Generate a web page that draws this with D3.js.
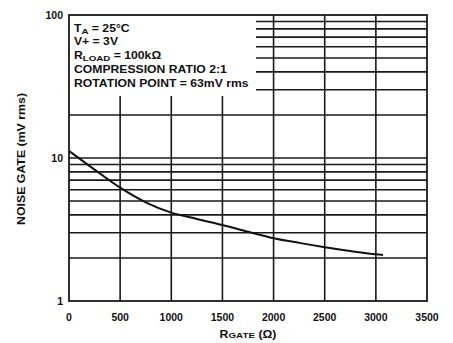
<!DOCTYPE html>
<html>
<head>
<meta charset="utf-8">
<script src="https://cdn.jsdelivr.net/npm/d3@7"></script>
<style>
  body { margin: 0; background: #fff; }
  text { font-family: "Liberation Sans", Arial, sans-serif; font-weight: bold; fill: #111; }
</style>
</head>
<body>
<div id="chart"></div>
<script>
// curve
var rgate = [0, 250, 500, 750, 1000, 1250, 1500, 1750, 2000, 2250, 2500, 2750, 3000, 3070];
var noise = [11.2, 8.3, 6.2, 4.9, 4.15, 3.75, 3.4, 3.05, 2.75, 2.55, 2.38, 2.24, 2.12, 2.1];

var xTicks = [0, 500, 1000, 1500, 2000, 2500, 3000, 3500];
var yTicks = [1, 10, 100];
var legendLines = [
  ["T", "A", " = 25°C"],
  ["V+ = 3V", "", ""],
  ["R", "LOAD", " = 100kΩ"],
  ["COMPRESSION RATIO 2:1", "", ""],
  ["ROTATION POINT = 63mV rms", "", ""]
];

var W = 453, H = 343;
var margin = {left: 69, right: 26, top: 15, bottom: 42};

var svg = d3.select("#chart").append("svg")
  .attr("width", W).attr("height", H);

var x = d3.scaleLinear().domain([0, 3500]).range([margin.left, W - margin.right]);
var y = d3.scaleLog().domain([1, 100]).range([H - margin.bottom, margin.top]);

// minor log values 2..9, 20..90
var minor = [];
[1, 10].forEach(function(d) {
  for (let k = 2; k <= 9; k++) minor.push(d * k);
});
minor.push(10);

// legend box area (gridlines don't go through it)
var boxX2 = 256, boxY2 = 96;

var grid = svg.append("g").attr("stroke", "#1a1a1a").attr("stroke-width", 1.6);

grid.selectAll("line.h").data(minor).enter().append("line")
  .attr("class", "h")
  .attr("x1", function(d) { return y(d) < boxY2 ? boxX2 : x(0); })
  .attr("x2", x(3500))
  .attr("y1", function(d) { return y(d); })
  .attr("y2", function(d) { return y(d); });

grid.selectAll("line.v").data(xTicks.slice(1, -1)).enter().append("line")
  .attr("class", "v")
  .attr("x1", function(d) { return x(d); })
  .attr("x2", function(d) { return x(d); })
  .attr("y1", function(d) { return x(d) < boxX2 ? boxY2 : y(100); })
  .attr("y2", y(1));

svg.append("rect")
  .attr("x", x(0)).attr("y", y(100))
  .attr("width", x(3500) - x(0)).attr("height", y(1) - y(100))
  .attr("fill", "none").attr("stroke", "#1a1a1a").attr("stroke-width", 1.8);

// curve
var line = d3.line()
  .x(function(d, i) { return x(rgate[i]); })
  .y(function(d) { return y(d); })
  .curve(d3.curveMonotoneX);

svg.append("path")
  .datum(noise)
  .attr("d", line)
  .attr("fill", "none")
  .attr("stroke", "#111")
  .attr("stroke-width", 2);

// axes labels
svg.selectAll("text.xt").data(xTicks).enter().append("text")
  .attr("class", "xt")
  .attr("x", function(d) { return x(d); })
  .attr("y", y(1) + 20)
  .attr("text-anchor", "middle")
  .style("font-size", "10.5px")
  .text(function(d) { return d; });

svg.selectAll("text.yt").data(yTicks).enter().append("text")
  .attr("class", "yt")
  .attr("x", x(0) - 6)
  .attr("y", function(d) { return y(d) + 4; })
  .attr("text-anchor", "end")
  .style("font-size", "10.5px")
  .text(function(d) { return d; });

var xt = svg.append("text")
  .attr("x", 248).attr("y", 338)
  .attr("text-anchor", "middle")
  .attr("textLength", 57)
  .attr("lengthAdjust", "spacingAndGlyphs")
  .style("font-size", "10px");
xt.append("tspan").text("R");
xt.append("tspan").style("font-size", "8px").text("GATE");
xt.append("tspan").text(" (Ω)");

svg.append("text")
  .attr("transform", "translate(25,159) rotate(-90)")
  .attr("text-anchor", "middle")
  .attr("textLength", 132)
  .attr("lengthAdjust", "spacingAndGlyphs")
  .style("font-size", "10px")
  .text("NOISE GATE (mV rms)");

// conditions legend, stretched wide like the original
var lg = svg.append("g")
  .attr("transform", "translate(74,0) scale(1.22,1) translate(-74,0)");
var baseY = [32, 45, 59, 73, 87];
legendLines.forEach(function(l, i) {
  var t = lg.append("text")
    .attr("x", 74).attr("y", baseY[i])
    .style("font-size", "10px");
  t.append("tspan").text(l[0]);
  if (l[1]) t.append("tspan").attr("dy", 2.5).style("font-size", "8px").text(l[1]);
  if (l[2]) t.append("tspan").attr("dy", l[1] ? -2.5 : 0).text(l[2]);
});
</script>
</body>
</html>
